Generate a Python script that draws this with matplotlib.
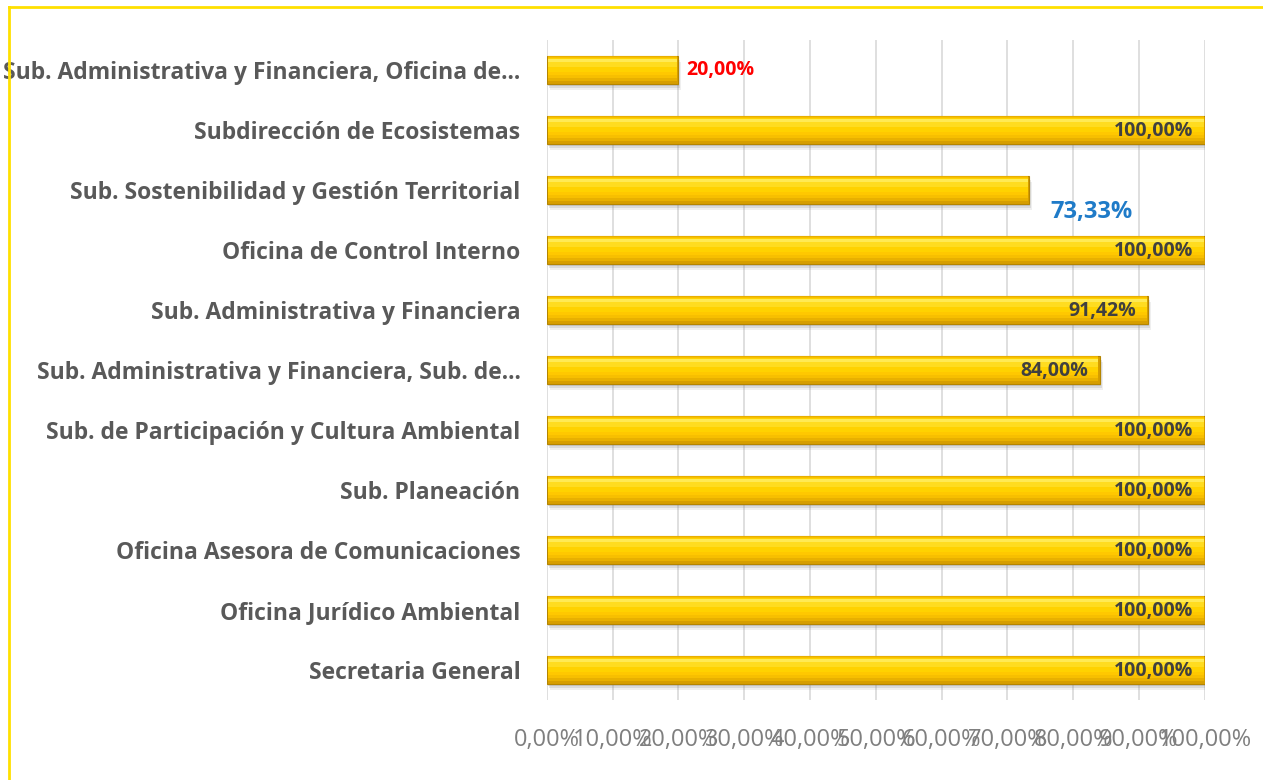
import matplotlib
matplotlib.use("Agg")
import matplotlib.pyplot as plt
from matplotlib.lines import Line2D
import matplotlib.transforms as mtransforms

# categories listed bottom -> top
labels = [
    "Secretaria General",
    "Oficina Jurídico Ambiental",
    "Oficina Asesora de Comunicaciones",
    "Sub. Planeación",
    "Sub. de Participación y Cultura Ambiental",
    "Sub. Administrativa y Financiera, Sub. de...",
    "Sub. Administrativa y Financiera",
    "Oficina de Control Interno",
    "Sub. Sostenibilidad y Gestión Territorial",
    "Subdirección de Ecosistemas",
    "Sub. Administrativa y Financiera, Oficina de...",
]
values = [100.0, 100.0, 100.0, 100.0, 100.0, 84.0, 91.42, 100.0, 73.33, 100.0, 20.0]
ticks = [0, 10, 20, 30, 40, 50, 60, 70, 80, 90, 100]

plt.rcParams["font.family"] = ["Open Sans", "DejaVu Sans"]

fig = plt.figure(figsize=(12.63, 7.8), dpi=100)
ax = fig.add_axes([0.433, 0.1026, 0.521, 0.8462])

y = list(range(len(labels)))
h = 0.48

# soft shadow under the bars
for k, a in [(6, 0.12), (4, 0.18), (2, 0.25)]:
    shadow = mtransforms.offset_copy(ax.transData, fig=fig, x=k * 0.5, y=-k, units="dots")
    ax.barh(y, values, height=h, color="#808080", alpha=a, transform=shadow,
            linewidth=0, zorder=2)

# bevelled gold bar: darker bottom, bright top
ax.barh(y, values, height=h, color="#D69E00", edgecolor="#B58500", linewidth=0.8, zorder=3)
layers = [
    (0.04, 0.86, "#E8B000"),
    (0.08, 0.74, "#F7BF00"),
    (0.12, 0.62, "#FFC800"),
    (0.17, 0.48, "#FFD200"),
    (0.24, 0.30, "#FFDC20"),
    (0.33, 0.12, "#FFEA55"),
]
for off, frac, col in layers:
    ax.barh([v + h * off for v in y], [x - 0.4 for x in values], left=0.2,
            height=h * frac, color=col, linewidth=0, zorder=4)

for yi, v in zip(y, values):
    txt = "{:.2f}%".format(v).replace(".", ",")
    if v == 20.0:
        ax.text(v + 1.2, yi, txt, color="#FF0000", fontsize=14, fontweight="bold",
                va="center", ha="left", zorder=7)
    elif v == 73.33:
        ax.text(v + 3.2, yi - 0.37, txt, color="#1F7BC8", fontsize=17, fontweight="bold",
                va="center", ha="left", zorder=7)
    else:
        ax.text(v - 1.8, yi - 0.02, txt, color="#404040", fontsize=14, fontweight="bold",
                va="center", ha="right", zorder=7)

ax.set_xlim(0, 100)
ax.set_ylim(-0.5, len(labels) - 0.5)
ax.set_xticks(ticks)
ax.set_xticklabels(["{:.2f}%".format(t).replace(".", ",") for t in ticks],
                   fontsize=17, color="#7f7f7f")
ax.set_yticks(y)
ax.set_yticklabels(labels, fontsize=16.5, fontweight="bold", color="#595959")
ax.tick_params(axis="y", length=0, pad=19)
ax.tick_params(axis="x", length=0, pad=20)
ax.grid(axis="x", color="#d9d9d9", linewidth=1.2, zorder=0)
ax.set_axisbelow(True)
for s in ax.spines.values():
    s.set_visible(False)

# yellow frame on top / left
fig.add_artist(Line2D([0.007, 1.0], [0.991, 0.991], color="#FFE000", linewidth=2))
fig.add_artist(Line2D([0.007, 0.007], [0.0, 0.991], color="#FFE000", linewidth=2))

fig.savefig("out.png", dpi=100)
